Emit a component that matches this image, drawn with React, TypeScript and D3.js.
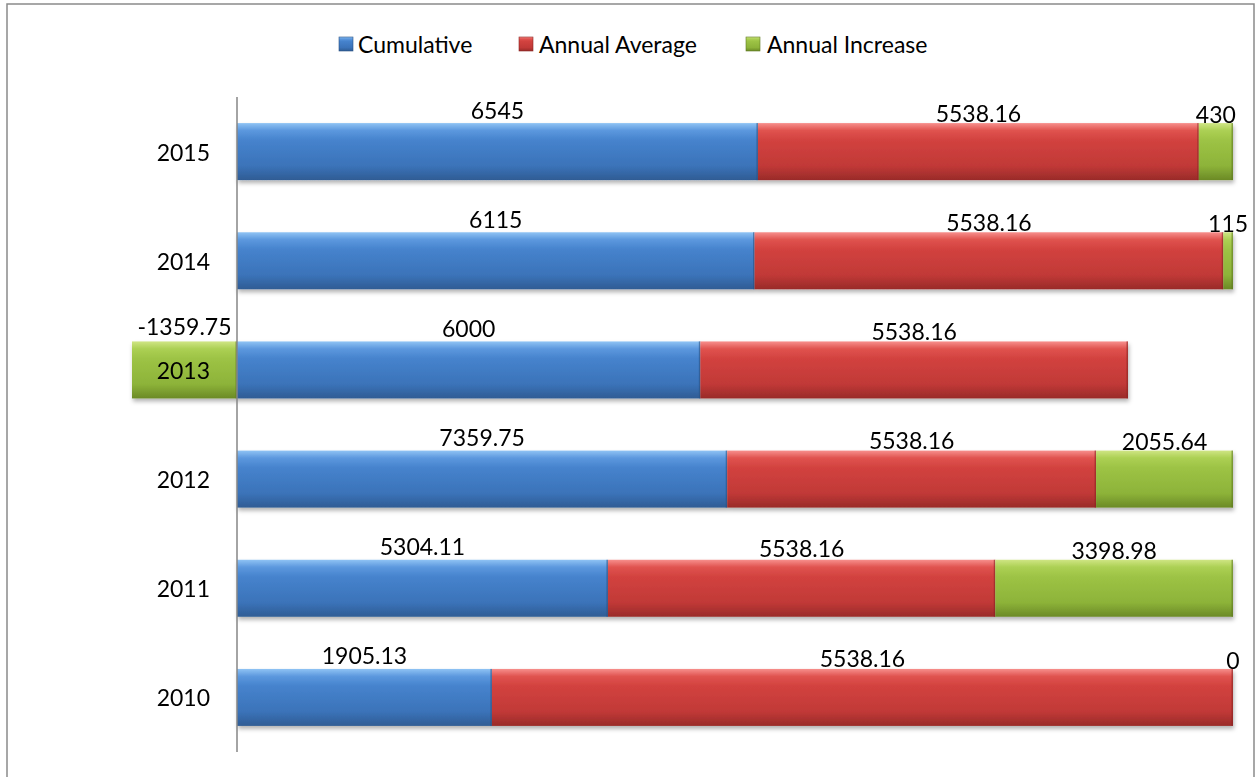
import React from "react";
import * as d3 from "d3";

const years = ["2010", "2011", "2012", "2013", "2014", "2015"];
const cumulative = [1905.13, 5304.11, 7359.75, 6000, 6115, 6545];
const annualAverage = [5538.16, 5538.16, 5538.16, 5538.16, 5538.16, 5538.16];
const annualIncrease = [0, 3398.98, 2055.64, -1359.75, 115, 430];
const seriesNames = ["Cumulative", "Annual Average", "Annual Increase"];

const W = 1260;
const H = 777;
const FONT = "Lato, 'Open Sans', sans-serif";
const FS = 23;

const palettes = [
  { id: "gBlue", stops: ["#8fc3f4", "#5c98de", "#4683cd", "#3b73b9", "#2f5c94"], edge: "#2a5282" },
  { id: "gRed", stops: ["#f78f8c", "#e0534f", "#d2423f", "#c13937", "#992b29"], edge: "#8a2523" },
  { id: "gGreen", stops: ["#cfe584", "#acd054", "#9dc345", "#8db339", "#6b8a26"], edge: "#5f7a22" },
];

type Seg = { k: number; i: number; year: string; v0: number; v1: number; value: number };

export default function App() {
  const values = [cumulative, annualAverage, annualIncrease];

  // 100% stacked: each value as share of the sum of absolute values; positives to the right, negatives to the left
  const segs: Seg[] = [];
  years.forEach((yr, i) => {
    const total = d3.sum(values, (s) => Math.abs(s[i]));
    let pos = 0;
    let neg = 0;
    values.forEach((s, k) => {
      const f = s[i] / total;
      if (f >= 0) {
        segs.push({ k, i, year: yr, v0: pos, v1: pos + f, value: s[i] });
        pos += f;
      } else {
        segs.push({ k, i, year: yr, v0: neg + f, v1: neg, value: s[i] });
        neg += f;
      }
    });
  });

  const x = d3.scaleLinear().domain([0, 1]).range([237, 1233]);
  const y = d3
    .scaleBand<string>()
    .domain([...years].reverse())
    .range([97, 752])
    .paddingInner(0.478)
    .paddingOuter(0.239);
  const bw = y.bandwidth();

  const legendPos = [
    { mx: 339, tx: 358 },
    { mx: 519, tx: 539 },
    { mx: 746, tx: 767 },
  ];

  return (
    <div style={{ position: "absolute", left: 0, top: 0 }}>
      <svg width={W} height={H} style={{ display: "block", background: "#fff" }}>
        <defs>
          {palettes.map((p) => (
            <linearGradient key={p.id} id={p.id} x1="0" y1="0" x2="0" y2="1">
              <stop offset="0" stopColor={p.stops[0]} />
              <stop offset="0.13" stopColor={p.stops[1]} />
              <stop offset="0.3" stopColor={p.stops[2]} />
              <stop offset="0.75" stopColor={p.stops[3]} />
              <stop offset="1" stopColor={p.stops[4]} />
            </linearGradient>
          ))}
          <filter id="shadow" x="-5%" y="-20%" width="110%" height="160%">
            <feDropShadow dx="1" dy="3" stdDeviation="2" floodColor="#000" floodOpacity="0.3" />
          </filter>
        </defs>

        <rect x={7} y={4} width={1247} height={H + 20} fill="none" stroke="#8a8a8a" strokeWidth={1.5} />

        {/* legend */}
        {seriesNames.map((n, k) => (
          <g key={n}>
            <rect
              x={legendPos[k].mx}
              y={37}
              width={14}
              height={14}
              fill={`url(#${palettes[k].id})`}
              stroke={palettes[k].edge}
              strokeWidth={0.6}
            />
            <text
              x={legendPos[k].tx}
              y={44}
              dominantBaseline="central"
              fontFamily={FONT}
              fontSize={FS}
              fill="#000"
            >
              {n}
            </text>
          </g>
        ))}

        {/* bars */}
        <g filter="url(#shadow)">
          {segs.map((d, j) => {
            const x0 = x(d.v0);
            const x1 = x(d.v1);
            const w = x1 - x0;
            if (w <= 0.01) return null;
            const yy = y(d.year) as number;
            const p = palettes[d.k];
            return (
              <g key={j}>
                <rect x={x0} y={yy} width={w} height={bw} fill={`url(#${p.id})`} />
                <rect x={x1 - 1.5} y={yy} width={1.5} height={bw} fill={p.edge} opacity={0.6} />
              </g>
            );
          })}
        </g>

        {/* category labels */}
        {years.map((yr) => (
          <text
            key={yr}
            x={210}
            y={(y(yr) as number) + bw / 2}
            textAnchor="end"
            dominantBaseline="central"
            fontFamily={FONT}
            fontSize={FS}
            fill="#000"
          >
            {yr}
          </text>
        ))}

        {/* axis line */}
        <line x1={x(0)} x2={x(0)} y1={97} y2={752} stroke="#868686" strokeWidth={1.5} />

        {/* data labels */}
        {segs.map((d, j) => {
          const cx = (x(d.v0) + x(d.v1)) / 2;
          const frac = (cx - x(0)) / (x(1) - x(0));
          const yy = y(d.year) as number;
          return (
            <text
              key={"l" + j}
              x={cx}
              y={yy - 6 + 6 * frac}
              textAnchor="middle"
              fontFamily={FONT}
              fontSize={FS}
              fill="#000"
            >
              {String(d.value)}
            </text>
          );
        })}
      </svg>
    </div>
  );
}
